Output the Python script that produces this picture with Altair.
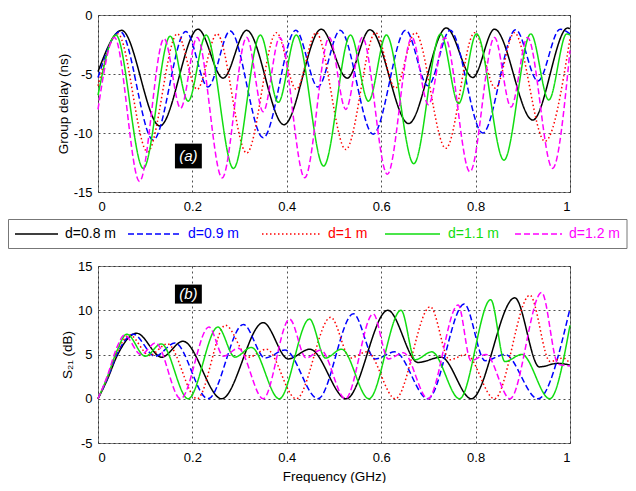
import altair as alt
import pandas as pd

SERIES = ["d=0.8 m", "d=0.9 m", "d=1 m", "d=1.1 m", "d=1.2 m"]
COLORS = ["#000000", "#0000ff", "#ff0000", "#11dd11", "#ff00ff"]
DASHES = [[1, 0], [6, 3], [1.5, 2.5], [1, 0], [6, 3]]
X_TICKS = [0, 0.2, 0.4, 0.6, 0.8, 1]
GD_TICKS = [0, -5, -10, -15]
S21_TICKS = [15, 10, 5, 0, -5]

# ---------- (a) group delay (ns) vs frequency (GHz) ----------
gd08_f = [0, 0.05, 0.131, 0.212, 0.265, 0.315, 0.394, 0.473, 0.528, 0.576, 0.658, 0.738, 0.794, 0.840, 0.921, 0.995, 1.0]
gd08_v = [-4.8, -1.3, -9.4, -1.2, -5.35, -1.3, -9.3, -1.2, -5.35, -1.25, -9.2, -1.1, -5.3, -1.2, -8.9, -1.1, -1.15]
gd09_f = [0, 0.047, 0.117, 0.186, 0.233, 0.280, 0.350, 0.419, 0.466, 0.513, 0.583, 0.652, 0.699, 0.746, 0.815, 0.885, 0.932, 0.979, 1.0]
gd09_v = [-5.3, -1.4, -10.6, -1.4, -6.1, -1.35, -10.4, -1.3, -6.1, -1.3, -10.1, -1.3, -6.0, -1.3, -10.0, -1.25, -5.6, -1.2, -1.6]
gd10_f = [0, 0.042, 0.105, 0.168, 0.210, 0.252, 0.315, 0.378, 0.420, 0.462, 0.525, 0.588, 0.630, 0.672, 0.737, 0.798, 0.842, 0.882, 0.947, 1.0]
gd10_v = [-6.0, -1.6, -11.6, -1.6, -6.3, -1.6, -11.7, -1.5, -6.3, -1.5, -11.4, -1.5, -6.2, -1.5, -11.3, -1.5, -6.2, -1.5, -10.7, -2.0]
gd11_f = [0, 0.038, 0.096, 0.153, 0.191, 0.229, 0.287, 0.344, 0.382, 0.420, 0.478, 0.535, 0.573, 0.611, 0.669, 0.726, 0.764, 0.802, 0.860, 0.917, 0.955, 0.993, 1.0]
gd11_v = [-6.8, -1.7, -13.0, -1.8, -7.3, -1.7, -13.0, -1.7, -7.4, -1.7, -12.8, -1.7, -7.3, -1.7, -12.6, -1.6, -7.5, -1.6, -12.3, -1.6, -7.2, -1.6, -1.7]
gd12_f = [0, 0.035, 0.088, 0.140, 0.175, 0.210, 0.263, 0.315, 0.350, 0.385, 0.438, 0.490, 0.525, 0.560, 0.613, 0.665, 0.700, 0.735, 0.788, 0.840, 0.875, 0.910, 0.963, 1.0]
gd12_v = [-8.0, -1.9, -14.1, -2.0, -7.9, -1.9, -13.8, -1.9, -8.2, -1.9, -13.8, -1.9, -8.0, -1.9, -13.5, -1.9, -7.6, -1.9, -13.3, -1.9, -7.8, -1.9, -13.0, -3.0]

# ---------- (b) S21 (dB) vs frequency (GHz) ----------
s08_f = [0, 0.02, 0.04, 0.082, 0.135, 0.18, 0.262, 0.35, 0.403, 0.449, 0.526, 0.614, 0.678, 0.727, 0.791, 0.883, 0.935, 0.974, 1.0]
s08_v = [0, 2.2, 4.8, 7.4, 4.7, 6.5, 0, 8.6, 4.5, 5.6, 0, 10.0, 4.1, 4.7, 0, 11.4, 3.6, 4.0, 3.8]
s09_f = [0, 0.02, 0.04, 0.075, 0.121, 0.163, 0.233, 0.308, 0.354, 0.396, 0.466, 0.541, 0.587, 0.629, 0.699, 0.776, 0.820, 0.862, 0.932, 1.0]
s09_v = [0, 2.3, 5.0, 7.3, 4.8, 6.3, 0, 8.4, 4.6, 5.5, 0, 9.6, 4.5, 5.3, 0, 10.7, 4.3, 5.0, 0, 10.2]
s10_f = [0, 0.02, 0.04, 0.067, 0.109, 0.147, 0.210, 0.270, 0.319, 0.357, 0.420, 0.493, 0.535, 0.570, 0.630, 0.704, 0.745, 0.780, 0.840, 0.915, 0.958, 0.985, 1.0]
s10_v = [0, 2.4, 5.2, 7.2, 4.9, 6.2, 0, 8.3, 4.7, 5.6, 0, 9.2, 4.6, 5.3, 0, 10.4, 4.4, 5.0, 0, 11.7, 4.2, 4.6, 4.0]
s11_f = [0, 0.02, 0.04, 0.061, 0.100, 0.134, 0.191, 0.254, 0.290, 0.325, 0.384, 0.448, 0.482, 0.516, 0.574, 0.642, 0.672, 0.707, 0.766, 0.832, 0.862, 0.898, 0.957, 1.0]
s11_v = [0, 2.5, 5.4, 7.3, 4.8, 6.2, 0, 8.1, 4.7, 5.8, 0, 9.0, 4.6, 5.6, 0, 10.0, 4.4, 5.3, 0, 11.2, 4.2, 5.0, 0, 8.3]
s12_f = [0, 0.02, 0.04, 0.056, 0.091, 0.122, 0.175, 0.235, 0.266, 0.297, 0.350, 0.406, 0.441, 0.472, 0.524, 0.583, 0.615, 0.647, 0.699, 0.763, 0.790, 0.822, 0.873, 0.940, 0.975, 1.0]
s12_v = [0, 2.6, 5.8, 7.2, 5.0, 6.3, 0, 8.1, 4.8, 5.7, 0, 9.0, 4.6, 5.5, 0, 9.6, 4.5, 5.2, 0, 10.6, 4.3, 5.0, 0, 12.0, 3.9, 3.7]

# panel tags
TAGS = ["(a)", "(b)"]
TAG_F = [0.163, 0.163]
TAG_F2 = [0.220, 0.220]
TAG_V = [-10.9, 12.9]
TAG_V2 = [-13.0, 10.75]

# ---------- layout (pixels) ----------
FONT = "Liberation Sans"
PLOT_LEFT = 98
PLOT_W = 472
PLOT_H = 177
LEG_H = 74
LEG_LINE_X1 = [15, 128, 262, 385, 515]
LEG_LINE_X2 = [58, 180, 320, 440, 562]
LEG_TEXT_X = [65, 188, 328, 448, 569]
LEG_Y = 42
LEG_BOX = [-89.5, 529, 27.5, 56.5]


def long_df(fs, vs):
    rows = []
    for name, f, v in zip(SERIES, fs, vs):
        for a, b in zip(f, v):
            rows.append({"series": name, "f": a, "v": b})
    return pd.DataFrame(rows)


gd_df = long_df([gd08_f, gd09_f, gd10_f, gd11_f, gd12_f], [gd08_v, gd09_v, gd10_v, gd11_v, gd12_v])
s_df = long_df([s08_f, s09_f, s10_f, s11_f, s12_f], [s08_v, s09_v, s10_v, s11_v, s12_v])

color_scale = alt.Scale(domain=SERIES, range=COLORS)
dash_scale = alt.Scale(domain=SERIES, range=DASHES)


def xenc(title, lpad, field="f"):
    return alt.X(
        f"{field}:Q",
        scale=alt.Scale(domain=[0, 1], nice=False, zero=False),
        axis=alt.Axis(values=X_TICKS, labelExpr="toString(datum.value)", title=title,
                      labelPadding=lpad, titlePadding=5),
    )


def yenc(domain, ticks, title, field="v"):
    return alt.Y(
        f"{field}:Q",
        scale=alt.Scale(domain=domain, nice=False, zero=False),
        axis=alt.Axis(values=ticks, labelExpr="toString(datum.value)", title=title,
                      labelPadding=6, titlePadding=3),
    )


def panel(df, idx, domain, ticks, ytitle, xtitle, lpad):
    lines = alt.Chart(df).mark_line(strokeWidth=1.5, interpolate="monotone").encode(
        x=xenc(xtitle, lpad),
        y=yenc(domain, ticks, ytitle),
        color=alt.Color("series:N", scale=color_scale, legend=None),
        strokeDash=alt.StrokeDash("series:N", scale=dash_scale, legend=None),
        detail="series:N",
    )
    tag_df = pd.DataFrame({"tag": [TAGS[idx]], "f": [TAG_F[idx]], "f2": [TAG_F2[idx]],
                           "v": [TAG_V[idx]], "v2": [TAG_V2[idx]],
                           "fm": [(TAG_F[idx] + TAG_F2[idx]) / 2], "vm": [(TAG_V[idx] + TAG_V2[idx]) / 2]})
    box = alt.Chart(tag_df).mark_rect(color="black").encode(
        x=xenc(xtitle, lpad), x2="f2:Q", y=yenc(domain, ticks, ytitle), y2="v2:Q")
    txt = alt.Chart(tag_df).mark_text(color="white", fontStyle="italic", fontSize=15, font=FONT).encode(
        x=xenc(xtitle, lpad, "fm"), y=yenc(domain, ticks, ytitle, "vm"), text="tag:N")
    return alt.layer(lines, box, txt).properties(width=PLOT_W, height=PLOT_H)


top = panel(gd_df, 0, [-15, 0], GD_TICKS, "Group delay (ns)", "", 8)
bottom = panel(s_df, 1, [-5, 15], S21_TICKS, "S\u2082\u2081 (dB)", "Frequency (GHz)", 8)

leg_df = pd.DataFrame({
    "series": SERIES,
    "x1": [x - PLOT_LEFT for x in LEG_LINE_X1],
    "x2": [x - PLOT_LEFT for x in LEG_LINE_X2],
    "tx": [x - PLOT_LEFT for x in LEG_TEXT_X],
})
leg_box = alt.Chart(pd.DataFrame({"a": [0]})).mark_rect(fill="white", stroke="#777777", strokeWidth=1).encode(
    x=alt.value(LEG_BOX[0]), x2=alt.value(LEG_BOX[1]), y=alt.value(LEG_BOX[2]), y2=alt.value(LEG_BOX[3]))
leg_lines = alt.Chart(leg_df).mark_rule(strokeWidth=1.5).encode(
    x=alt.X("x1:Q", scale=None, axis=None), x2="x2:Q", y=alt.value(LEG_Y),
    color=alt.Color("series:N", scale=color_scale, legend=None),
    strokeDash=alt.StrokeDash("series:N", scale=dash_scale, legend=None))
leg_text = alt.Chart(leg_df).mark_text(align="left", baseline="middle", fontSize=14, font=FONT).encode(
    x=alt.X("tx:Q", scale=None, axis=None), y=alt.value(LEG_Y), text="series:N",
    color=alt.Color("series:N", scale=color_scale, legend=None))
legend = alt.layer(leg_box, leg_lines, leg_text).properties(
    width=PLOT_W, height=LEG_H, view=alt.ViewBackground(strokeOpacity=0))

chart = alt.vconcat(top, legend, bottom, spacing=0, bounds="flush").properties(
    padding={"left": 0, "top": 0, "right": 0, "bottom": 0}
).configure_view(stroke="#7f7f7f", strokeWidth=1).configure_axis(
    labelFont=FONT, titleFont=FONT, labelFontSize=13, titleFontSize=13.5,
    labelColor="black", titleColor="black", titleFontWeight="normal",
    grid=True, gridColor="#222222", gridDash=[2, 3], gridWidth=0.8, gridOpacity=1,
    ticks=False, domain=False,
)

chart.save("out.html", embed_options={"renderer": "svg", "actions": False})
